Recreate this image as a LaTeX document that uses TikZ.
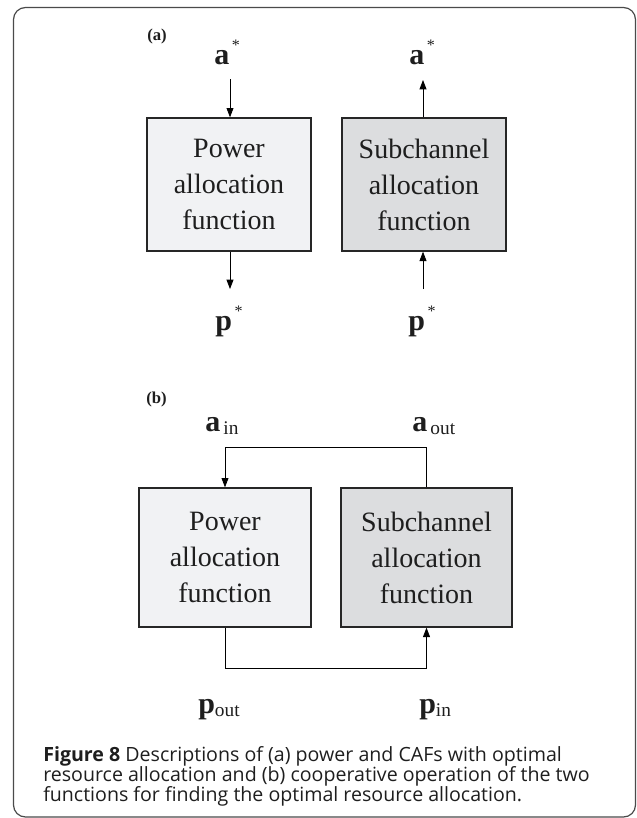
\documentclass[tikz,border=0pt]{standalone}
\usepackage{fontspec}
\setmainfont{Liberation Serif}
\newfontfamily\capfont{Open Sans}
\usetikzlibrary{arrows.meta}
\definecolor{powfill}{HTML}{F1F2F4}
\definecolor{subfill}{HTML}{DCDDDF}
\definecolor{edgecol}{HTML}{262626}
\definecolor{framecol}{HTML}{4A4A4A}
\definecolor{inkcol}{HTML}{1E1E1E}

% bold vector symbol with a superscript or subscript
\newcommand\vecstar[1]{\fontsize{22.5pt}{22.5pt}\selectfont\textbf{#1}\raisebox{0.45em}{\fontsize{12pt}{12pt}\selectfont\,*}}
\newcommand\vecsub[2]{\fontsize{22.5pt}{22.5pt}\selectfont\textbf{#1}\raisebox{-0.12em}{\fontsize{14.5pt}{14.5pt}\selectfont #2}}

\begin{document}
\begin{tikzpicture}[x=0.75pt,y=-0.75pt,
  fnbox/.style={draw=edgecol, line width=1pt, align=center, inner sep=0pt,
    text=inkcol, font=\fontsize{21pt}{27pt}\selectfont},
  powbox/.style={fnbox, fill=powfill},
  subbox/.style={fnbox, fill=subfill},
  arr/.style={draw=black, line width=0.6pt, -{Triangle[length=7pt,width=5.2pt]}},
  lbl/.style={inner sep=0pt, anchor=base west, text=inkcol},
  tag/.style={inner sep=0pt, anchor=base west, text=inkcol,
    font=\fontsize{12.5pt}{12.5pt}\selectfont\bfseries},
  capline/.style={inner sep=0pt, anchor=base west, text=inkcol,
    font=\capfont\fontsize{14.7pt}{16pt}\selectfont}]
\useasboundingbox (0,0) rectangle (636,818);

% outer frame
\draw[framecol, line width=0.9pt, rounded corners=9pt] (13.5,7.5) rectangle (635.5,817);

% ---------- (a) ----------
\node[tag] (taga) at (147,40) {(a)};
\node[powbox, minimum width=123pt, minimum height=99.75pt] (pa) at (229,184.5)
  {Power\\allocation\\function};
\node[subbox, minimum width=123pt, minimum height=99.75pt] (sa) at (424,184.5)
  {Subchannel\\allocation\\function};

\node[lbl] (astl) at (214,64) {\vecstar{a}};
\node[lbl] (astr) at (409,64) {\vecstar{a}};
\node[lbl] (pstl) at (215,330) {\vecstar{p}};
\node[lbl] (pstr) at (408,330) {\vecstar{p}};

\coordinate (ina)  at (230,79);
\coordinate (outp) at (230,289);
\coordinate (outa) at (423,80);
\coordinate (inp)  at (423,289);

\draw[arr] (ina) -- (ina |- pa.north);
\draw[arr] (outp |- pa.south) -- (outp);
\draw[arr] (outa |- sa.north) -- (outa);
\draw[arr] (inp) -- (inp |- sa.south);

% ---------- (b) ----------
\node[tag] (tagb) at (146,403) {(b)};
\node[powbox, minimum width=129pt, minimum height=104.25pt] (pb) at (225,557.5)
  {Power\\allocation\\function};
\node[subbox, minimum width=128.25pt, minimum height=104.25pt] (sb) at (426.5,557.5)
  {Subchannel\\allocation\\function};

\node[lbl] (ain)  at (205,431) {\vecsub{a}{\,in}};
\node[lbl] (aout) at (412,431) {\vecsub{a}{\,out}};
\node[lbl] (pout) at (198,713) {\vecsub{p}{out}};
\node[lbl] (pin)  at (419,713) {\vecsub{p}{in}};

% feedback loop between the two functions
\draw[arr] (sb.north) -- ++(0,-40) -| (pb.north);
\draw[arr] (pb.south) -- ++(0,41) -| (sb.south);

% ---------- caption ----------
\node[capline] (cap1) at (43,761)
  {\textbf{Figure 8} Descriptions of (a) power and CAFs with optimal};
\node[capline] (cap2) at (43,781)
  {resource allocation and (b) cooperative operation of the two};
\node[capline] (cap3) at (43,801)
  {functions for finding the optimal resource allocation.};
\end{tikzpicture}
\end{document}
